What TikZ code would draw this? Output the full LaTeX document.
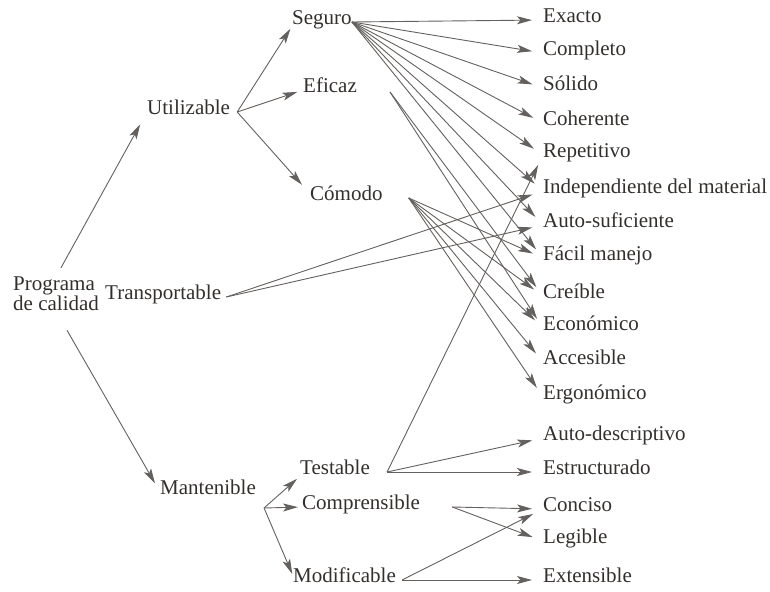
\documentclass[tikz,border=0pt]{standalone}
\usepackage{fontspec}
\setmainfont{Liberation Serif}
\usetikzlibrary{arrows.meta}
\definecolor{ink}{RGB}{50,47,45}
\definecolor{wire}{RGB}{100,96,94}

\begin{document}
\begin{tikzpicture}[x=1pt, y=-1pt,
  txt/.style={text=ink, font=\fontsize{21}{19}\selectfont, inner sep=0pt, anchor=west},
  lbl/.style={txt, text height=1.5ex, text depth=.25ex},
  link/.style={wire, line width=0.9pt, -{Stealth[length=15pt, width=8pt, inset=3.5pt]}, shorten >=11pt}]
  \useasboundingbox (0,0) rectangle (770,591);
  % root and first level
  \node [txt, align=left] (prog) at (13,294) {Programa\\de calidad};
  \node [lbl] (util) at (147,112) {Utilizable};
  \node [lbl] (trans) at (105,297) {Transportable};
  \node [lbl] (mant) at (160,492) {Mantenible};
  % second level
  \node [lbl] (seguro) at (292,22) {Seguro};
  \node [lbl] (eficaz) at (303,90) {Eficaz};
  \node [lbl] (comodo) at (310,198) {Cómodo};
  \node [lbl] (testable) at (300,472) {Testable};
  \node [lbl] (compr) at (302,507) {Comprensible};
  \node [lbl] (modif) at (293,580) {Modificable};
  % primitive characteristics
  \node [lbl] (exacto) at (543,20) {Exacto};
  \node [lbl] (completo) at (543,53) {Completo};
  \node [lbl] (solido) at (543,88) {Sólido};
  \node [lbl] (coherente) at (543,123) {Coherente};
  \node [lbl] (repet) at (543,155) {Repetitivo};
  \node [lbl] (indep) at (543,191) {Independiente del material};
  \node [lbl] (autosuf) at (543,225) {Auto-suficiente};
  \node [lbl] (facil) at (543,258) {Fácil manejo};
  \node [lbl] (creible) at (543,296) {Creíble};
  \node [lbl] (econ) at (543,328) {Económico};
  \node [lbl] (acces) at (543,362) {Accesible};
  \node [lbl] (ergo) at (543,397) {Ergonómico};
  \node [lbl] (autodesc) at (543,438) {Auto-descriptivo};
  \node [lbl] (estruct) at (543,472) {Estructurado};
  \node [lbl] (conciso) at (543,509) {Conciso};
  \node [lbl] (legible) at (543,541) {Legible};
  \node [lbl] (extens) at (543,580) {Extensible};

  % root
  \draw [link, shorten <=10pt, shorten >=14pt] (prog.north) -- (util.west);
  \draw [link, shorten <=22pt, shorten >=10pt] (prog.south) -- (mant.west);
  % utilizable
  \draw [link, shorten >=3pt] ([xshift=7pt]util.east) -- (seguro.south west);
  \draw [link, shorten >=6pt] ([xshift=7pt]util.east) -- (eficaz.west);
  \draw [link, shorten >=12pt] ([xshift=7pt]util.east) -- (comodo.north west);
  % seguro
  \draw [link] (seguro.east) -- (exacto.west);
  \draw [link] (seguro.east) -- (completo.west);
  \draw [link] (seguro.east) -- (solido.west);
  \draw [link] (seguro.east) -- (coherente.west);
  \draw [link] (seguro.east) -- (repet.west);
  \draw [link] (seguro.east) -- (indep.west);
  \draw [link] (seguro.east) -- (autosuf.west);
  \draw [link] (seguro.east) -- (facil.west);
  % eficaz
  \draw [link] ([xshift=33pt, yshift=-2pt]eficaz.east) -- (creible.west);
  \draw [link] ([xshift=33pt, yshift=-2pt]eficaz.east) -- (econ.west);
  % comodo
  \draw [link] ([xshift=26pt]comodo.east) -- (facil.west);
  \draw [link] ([xshift=26pt]comodo.east) -- (creible.west);
  \draw [link] ([xshift=26pt]comodo.east) -- (econ.west);
  \draw [link] ([xshift=26pt]comodo.east) -- (acces.west);
  \draw [link] ([xshift=26pt]comodo.east) -- (ergo.west);
  % transportable
  \draw [link] ([xshift=5pt]trans.east) -- (indep.west);
  \draw [link] ([xshift=5pt]trans.east) -- (autosuf.west);
  % mantenible
  \draw [link, shorten >=4pt] ([xshift=8pt, yshift=-16pt]mant.east) -- (testable.south west);
  \draw [link, shorten >=4pt] ([xshift=8pt, yshift=-16pt]mant.east) -- (compr.west);
  \draw [link, shorten >=2pt] ([xshift=8pt, yshift=-16pt]mant.east) -- (modif.north west);
  % testable
  \draw [link] ([xshift=17pt]testable.east) -- (repet.west);
  \draw [link] ([xshift=17pt]testable.east) -- (autodesc.west);
  \draw [link] ([xshift=17pt]testable.east) -- (estruct.west);
  % comprensible
  \draw [link] ([xshift=32pt]compr.east) -- (conciso.west);
  \draw [link] ([xshift=32pt]compr.east) -- (legible.west);
  % modificable
  \draw [link] ([xshift=6pt]modif.east) -- (conciso.west);
  \draw [link] ([xshift=6pt]modif.east) -- (extens.west);
\end{tikzpicture}
\end{document}
